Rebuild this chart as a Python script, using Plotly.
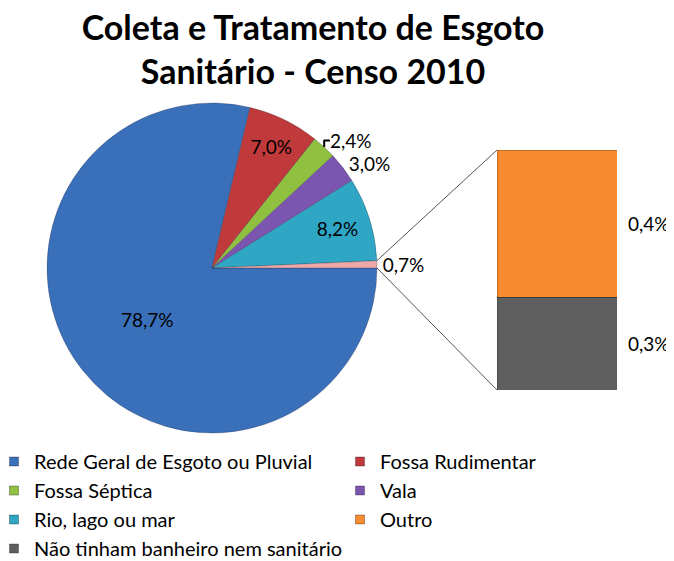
import math
import plotly.graph_objects as go

# ---- data ----
pie_labels = ["Rede Geral de Esgoto ou Pluvial", "Fossa Rudimentar", "Fossa Séptica",
              "Vala", "Rio, lago ou mar", "Outros"]
pie_values = [78.7, 7.0, 2.4, 3.0, 8.2, 0.7]
pie_colors = ["#3a70ba", "#c0393b", "#8fc040", "#7b55b0", "#2ea6c4", "#eea8a8"]
pie_textpos = ["inside", "inside", "outside", "outside", "inside", "outside"]

bar_labels = ["Não tinham banheiro nem sanitário", "Outro"]
bar_values = [0.27, 0.43]
bar_text = ["0,3%", "0,4%"]
bar_colors = ["#5e5e5e", "#f58a2e"]

legend_col1 = ["Rede Geral de Esgoto ou Pluvial", "Fossa Séptica", "Rio, lago ou mar",
               "Não tinham banheiro nem sanitário"]
legend_col1_colors = ["#3a70ba", "#8fc040", "#2ea6c4", "#5e5e5e"]
legend_col2 = ["Fossa Rudimentar", "Vala", "Outro"]
legend_col2_colors = ["#c0393b", "#7b55b0", "#f58a2e"]

# the page body adds an 8px offset, so the figure is sized to the visible area
OFF = 8
W, H = 674 - OFF, 561 - OFF
FONT = "Lato"

def px_x(x):
    return (x - OFF) / W

def px_y(y):
    return 1 - (y - OFF) / H

def fmt(v):
    return ("%.1f" % v).replace(".", ",") + "%"

pie_dom_x = [px_x(47), px_x(377)]
pie_dom_y = [px_y(433), px_y(103)]
bar_dom_x = [px_x(497), px_x(617)]
bar_dom_y = [px_y(390), px_y(150)]

fig = go.Figure()

fig.add_trace(go.Pie(
    labels=pie_labels, values=pie_values, sort=False, direction="clockwise",
    rotation=90, text=[fmt(v) for v in pie_values], textinfo="text",
    textposition=pie_textpos, insidetextorientation="horizontal",
    textfont=dict(family=FONT, size=19, color="black"),
    marker=dict(colors=pie_colors, line=dict(color="rgba(40,40,60,0.35)", width=0.8)),
    domain=dict(x=pie_dom_x, y=pie_dom_y), showlegend=False, hoverinfo="label+percent",
))

for lab, v, c in zip(bar_labels, bar_values, bar_colors):
    fig.add_trace(go.Bar(x=[0], y=[v], name=lab,
                         marker=dict(color=c, line=dict(color="rgba(0,0,0,0.2)", width=1)),
                         width=1, showlegend=False, xaxis="x", yaxis="y"))

# legend entries (two columns = two legends)
for names, cols, lg in [(legend_col1, legend_col1_colors, "legend"),
                        (legend_col2, legend_col2_colors, "legend2")]:
    for lab, c in zip(names, cols):
        fig.add_trace(go.Scatter(x=[None], y=[None], mode="markers", name=lab, legend=lg,
                                 marker=dict(symbol="square", size=9, color=c,
                                             line=dict(color="rgba(0,0,0,0.3)", width=1))))

# bar labels
cum = 0
total_bar = sum(bar_values)
for v, t in zip(bar_values, bar_text):
    fig.add_annotation(x=0.5, y=cum + v / 2, xref="x", yref="y", text=t, showarrow=False,
                       xanchor="left", xshift=9, font=dict(family=FONT, size=19, color="black"))
    cum += v

# connector lines from the "Outros" slice edges to the bar corners
cx_px = (pie_dom_x[0] + pie_dom_x[1]) / 2 * W
cy_px = (pie_dom_y[0] + pie_dom_y[1]) / 2 * H
r_px = min((pie_dom_x[1] - pie_dom_x[0]) * W, (pie_dom_y[1] - pie_dom_y[0]) * H) / 2
ang_top = math.radians(pie_values[-1] / sum(pie_values) * 360)
pts = [(cx_px + r_px * math.cos(ang_top), cy_px + r_px * math.sin(ang_top)),
       (cx_px + r_px, cy_px)]
ends = [(bar_dom_x[0], bar_dom_y[1]), (bar_dom_x[0], bar_dom_y[0])]
for (px, py), (ex, ey) in zip(pts, ends):
    fig.add_shape(type="line", xref="paper", yref="paper", x0=px / W, y0=py / H, x1=ex, y1=ey,
                  line=dict(color="#555555", width=1))

legend_font = dict(family=FONT, size=20, color="black")
fig.update_layout(
    width=W, height=H, margin=dict(l=0, r=0, t=0, b=0, autoexpand=False),
    paper_bgcolor="white", plot_bgcolor="white",
    title=dict(text="<b>Coleta e Tratamento de Esgoto<br>Sanitário - Censo 2010</b>",
               x=px_x(313), xanchor="center", y=1 - 32 / H, yanchor="top",
               font=dict(family=FONT, size=34, color="black")),
    barmode="stack",
    xaxis=dict(domain=bar_dom_x, range=[-0.5, 0.5], visible=False, fixedrange=True),
    yaxis=dict(domain=bar_dom_y, range=[0, total_bar], visible=False, fixedrange=True),
    legend=dict(orientation="v", x=(14 - 20 - OFF) / W, xanchor="left", y=px_y(442), yanchor="top",
                itemwidth=30, font=legend_font, bgcolor="rgba(0,0,0,0)", traceorder="normal"),
    legend2=dict(orientation="v", x=(360 - 20 - OFF) / W, xanchor="left", y=px_y(442), yanchor="top",
                 itemwidth=30, font=legend_font, bgcolor="rgba(0,0,0,0)", traceorder="normal"),
    showlegend=True,
)

fig.write_html("out.html")
